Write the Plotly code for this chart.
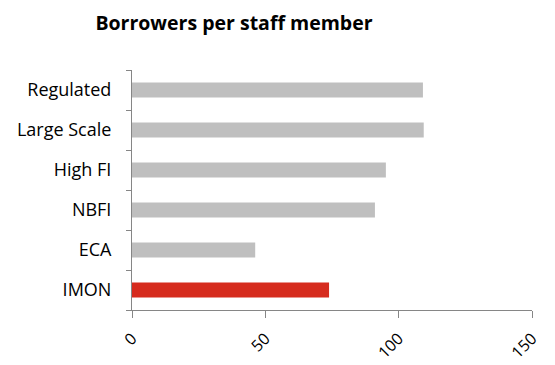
import plotly.graph_objects as go

# Borrowers per staff member, by peer group
categories = ["IMON", "ECA", "NBFI", "High FI", "Large Scale", "Regulated"]
values = [73.9, 46.2, 91.1, 95.2, 109.4, 109.1]
bar_colors = ["#D62B1E", "#BFBFBF", "#BFBFBF", "#BFBFBF", "#BFBFBF", "#BFBFBF"]
x_ticks = [0, 50, 100, 150]

FONT = "Open Sans"

fig = go.Figure(
    go.Bar(
        x=values,
        y=categories,
        orientation="h",
        marker=dict(color=bar_colors, line=dict(width=0)),
    )
)

fig.update_layout(
    width=555,
    height=365,
    margin=dict(l=132, r=23, t=70, b=55),
    paper_bgcolor="white",
    plot_bgcolor="white",
    bargap=0.62,
    showlegend=False,
    font=dict(family=FONT, size=17, color="#000000"),
    title=dict(
        text="<b>Borrowers per staff member</b>",
        x=234 / 555,
        xanchor="center",
        y=1 - 23 / 365,
        yanchor="middle",
        font=dict(family=FONT, size=19.5, color="#000000"),
    ),
)

fig.update_xaxes(
    range=[0, 150],
    tickvals=x_ticks,
    ticktext=[str(v) for v in x_ticks],
    tickangle=-45,
    ticks="outside",
    ticklen=7,
    tickcolor="#868686",
    ticklabelstandoff=5,
    showline=True,
    linecolor="#868686",
    linewidth=1,
    showgrid=False,
    zeroline=False,
    automargin=False,
    tickfont=dict(family=FONT, size=16, color="#000000"),
)

fig.update_yaxes(
    categoryorder="array",
    categoryarray=categories,
    ticks="outside",
    tickson="boundaries",
    ticklen=5,
    tickcolor="#868686",
    ticklabelstandoff=16,
    showline=True,
    linecolor="#868686",
    linewidth=1,
    showgrid=False,
    zeroline=False,
    automargin=False,
    tickfont=dict(family=FONT, size=18, color="#000000"),
)

fig.write_html("out.html")
